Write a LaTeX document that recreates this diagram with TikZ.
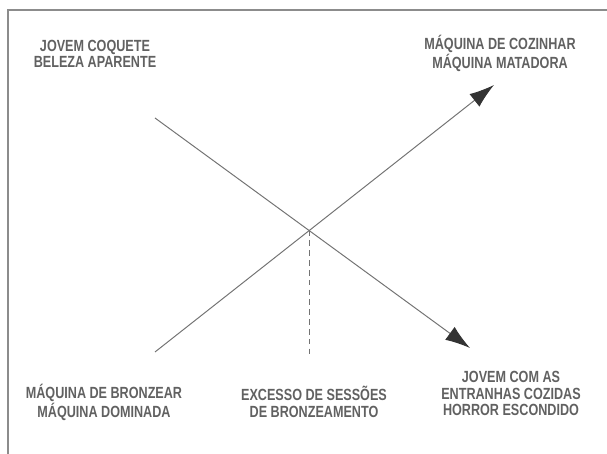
\documentclass[tikz,border=0pt]{standalone}
\usepackage{fontspec}
\setmainfont{Liberation Sans}[FakeStretch=0.78]
\usepackage{tikz}
\usetikzlibrary{arrows.meta}

\tikzset{
  tag/.style={align=center, text=black!62, font=\fontsize{11.5}{11.7}\selectfont\bfseries, inner sep=0pt},
  axis/.style={draw=black!55, line width=0.7pt},
  head/.style={-{Latex[length=6.2mm,width=4mm,color=black!80]}}
}

\begin{document}
\begin{tikzpicture}

\useasboundingbox (0,0) rectangle (15.175, 11.35);

% open frame
\draw[black!45, line width=1.3pt] (15.175, 11.1) -- (0.2, 11.1) -- (0.2, 0);

\node[tag] (coquete) at (2.375, 10.01) {JOVEM COQUETE\\BELEZA APARENTE};
\node[tag] (cozinhar) at (12.5, 10.01) {MÁQUINA DE COZINHAR\\MÁQUINA MATADORA};
\node[tag] (bronzear) at (2.6, 1.3) {MÁQUINA DE BRONZEAR\\MÁQUINA DOMINADA};
\node[tag] (excesso) at (7.85, 1.3) {EXCESSO DE SESSÕES\\DE BRONZEAMENTO};
\node[tag] (cozidas) at (12.775, 1.51) {JOVEM COM AS\\ENTRANHAS COZIDAS\\HORROR ESCONDIDO};

\coordinate (a1) at (3.875, 8.4);
\coordinate (a2) at (11.75, 2.65);
\coordinate (b1) at (3.875, 2.55);
\coordinate (b2) at (12.35, 9.225);
\coordinate (cross) at (intersection of a1--a2 and b1--b2);
\coordinate (foot) at (cross |- 0,2.4);

\draw[axis, head] (a1) -- (a2);
\draw[axis, head] (b1) -- (b2);
\draw[axis, dashed, dash pattern=on 4pt off 3pt] (cross) -- (foot);

\end{tikzpicture}
\end{document}
